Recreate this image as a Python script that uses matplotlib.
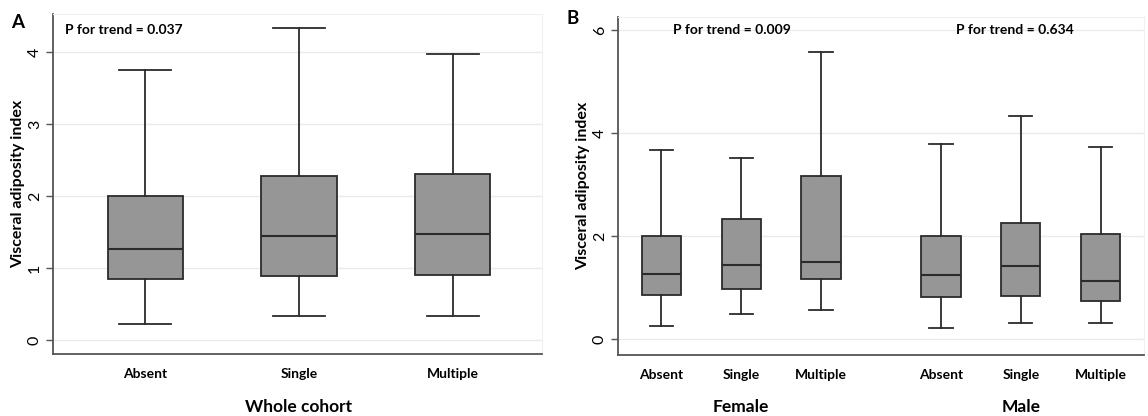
import matplotlib
matplotlib.use("Agg")
import matplotlib.pyplot as plt
from matplotlib.transforms import blended_transform_factory

plt.rcParams['font.family'] = ['Lato', 'DejaVu Sans']

categories = ["Absent", "Single", "Multiple"]

# Whole cohort
whole_lo = [0.22, 0.34, 0.34]
whole_q1 = [0.85, 0.89, 0.91]
whole_med = [1.26, 1.44, 1.48]
whole_q3 = [2.00, 2.28, 2.31]
whole_hi = [3.75, 4.33, 3.97]

# Female
female_lo = [0.25, 0.48, 0.57]
female_q1 = [0.86, 0.98, 1.17]
female_med = [1.26, 1.43, 1.49]
female_q3 = [1.99, 2.32, 3.17]
female_hi = [3.66, 3.51, 5.57]

# Male
male_lo = [0.21, 0.32, 0.32]
male_q1 = [0.82, 0.84, 0.74]
male_med = [1.24, 1.42, 1.12]
male_q3 = [1.99, 2.25, 2.04]
male_hi = [3.78, 4.33, 3.73]

p_whole = "P for trend = 0.037"
p_female = "P for trend = 0.009"
p_male = "P for trend = 0.634"
ylabel = "Visceral adiposity index"


def make_stats(lo, q1, med, q3, hi):
    return [dict(whislo=a, q1=b, med=c, q3=d, whishi=e, fliers=[])
            for a, b, c, d, e in zip(lo, q1, med, q3, hi)]


LINE = "#2b2b2b"
FILL = "#969696"
GRID = "#ebebeb"

boxprops = dict(facecolor=FILL, edgecolor=LINE, linewidth=1.3)
medianprops = dict(color=LINE, linewidth=1.5)
whiskerprops = dict(color=LINE, linewidth=1.3)
capprops = dict(color=LINE, linewidth=1.3)


def style_axes(ax):
    for s in ["top", "right"]:
        ax.spines[s].set_color("#f0f0f0")
        ax.spines[s].set_linewidth(0.8)
    for s in ["left", "bottom"]:
        ax.spines[s].set_color("#555555")
        ax.spines[s].set_linewidth(1.3)
    ax.yaxis.grid(True, color=GRID, linewidth=1.0)
    ax.set_axisbelow(True)
    ax.tick_params(axis="y", direction="out", length=5, width=1.0,
                   color="#555555", labelsize=11.5, pad=3)
    for lab in ax.get_yticklabels():
        lab.set_rotation(90)
        lab.set_va("center")
    ax.tick_params(axis="x", length=0, pad=10)
    for lab in ax.get_xticklabels():
        lab.set_fontweight("bold")
        lab.set_fontsize(10)


fig = plt.figure(figsize=(11.48, 4.16), dpi=100)
label_y = (416 - 407) / 416

# Panel A
axA = fig.add_axes([53 / 1148, 62 / 416, 489 / 1148, 340 / 416])
posA = [1, 2, 3]
axA.bxp(make_stats(whole_lo, whole_q1, whole_med, whole_q3, whole_hi),
        positions=posA, widths=0.49, patch_artist=True, showfliers=False,
        boxprops=boxprops, medianprops=medianprops,
        whiskerprops=whiskerprops, capprops=capprops, capwidths=0.34)
axA.set_xlim(0.40, 3.58)
axA.set_ylim(-0.194, 4.53)
axA.set_yticks([0, 1, 2, 3, 4])
axA.set_xticks(posA)
axA.set_xticklabels(categories)
style_axes(axA)
axA.set_ylabel(ylabel, fontweight="bold", fontsize=11.5, labelpad=2)
trA = blended_transform_factory(axA.transData, fig.transFigure)
axA.text(2, label_y, "Whole cohort", transform=trA, fontsize=12.5,
         fontweight="bold", ha="center", va="center")
fig.text(65 / 1148, (416 - 30) / 416, p_whole,
         fontsize=10, fontweight="bold", ha="left", va="center")
fig.text(11 / 1148, (416 - 22) / 416, "A", fontsize=13.5, fontweight="bold",
         ha="left", va="center")

# Panel B
axB = fig.add_axes([618 / 1148, 61 / 416, 526 / 1148, 338 / 416])
posB = [1, 2, 3, 4.5, 5.5, 6.5]
statsB = (make_stats(female_lo, female_q1, female_med, female_q3, female_hi)
          + make_stats(male_lo, male_q1, male_med, male_q3, male_hi))
axB.bxp(statsB, positions=posB, widths=0.49, patch_artist=True,
        showfliers=False, boxprops=boxprops, medianprops=medianprops,
        whiskerprops=whiskerprops, capprops=capprops, capwidths=0.29)
axB.set_xlim(0.46, 7.04)
axB.set_ylim(-0.31, 6.25)
axB.set_yticks([0, 2, 4, 6])
axB.set_xticks(posB)
axB.set_xticklabels(categories + categories)
style_axes(axB)
axB.set_ylabel(ylabel, fontweight="bold", fontsize=11.5, labelpad=2)
trB = blended_transform_factory(axB.transData, fig.transFigure)
axB.text(2, label_y, "Female", transform=trB, fontsize=12.5,
         fontweight="bold", ha="center", va="center")
axB.text(5.5, label_y, "Male", transform=trB, fontsize=12.5,
         fontweight="bold", ha="center", va="center")
axB.text(1.88, 6.0, p_female, fontsize=10, fontweight="bold",
         ha="center", va="center")
axB.text(5.42, 6.0, p_male, fontsize=10, fontweight="bold",
         ha="center", va="center")
fig.text(566 / 1148, (416 - 19) / 416, "B", fontsize=13.5, fontweight="bold",
         ha="left", va="center")

fig.savefig("out.png", dpi=100)
